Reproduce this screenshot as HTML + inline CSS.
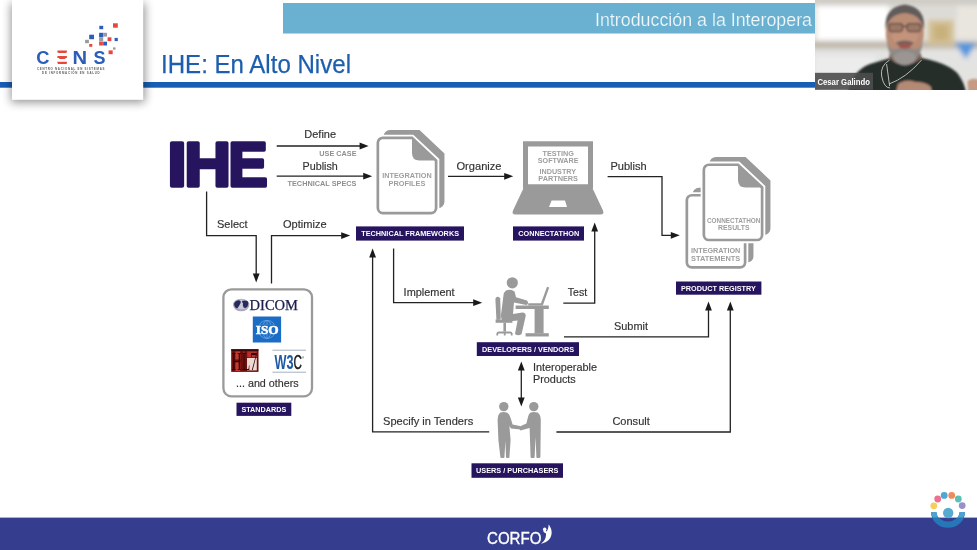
<!DOCTYPE html>
<html lang="es">
<head>
<meta charset="utf-8">
<title>IHE: En Alto Nivel</title>
<style>
html,body{margin:0;padding:0;background:#fff;}
body{width:977px;height:550px;overflow:hidden;position:relative;font-family:"Liberation Sans",sans-serif;}
svg{position:absolute;left:0;top:0;display:block;}
text{font-family:"Liberation Sans",sans-serif;}
.lbl{font-size:11.5px;fill:#333;stroke:#333;stroke-width:0.18px;}
.sm{font-size:7.6px;font-weight:bold;fill:#9e9e9e;}
.tag{font-size:7.4px;font-weight:bold;fill:#fff;}
.ln{fill:none;stroke:#222;stroke-width:1.3;}
.ah{fill:#1a1a1a;}
.g{fill:#9a9a9a;}
</style>
</head>
<body>
<svg width="977" height="550" viewBox="0 0 977 550" style="will-change:transform;transform:translateZ(0)">
<defs>
  <filter id="sh" x="-20%" y="-20%" width="140%" height="140%"><feGaussianBlur stdDeviation="4.6"/></filter>
  <filter id="b1" x="-20%" y="-20%" width="140%" height="140%"><feGaussianBlur stdDeviation="1.2"/></filter>
  <filter id="b2" x="-30%" y="-30%" width="160%" height="160%"><feGaussianBlur stdDeviation="2.5"/></filter>
  <filter id="b05" x="-10%" y="-10%" width="120%" height="120%"><feGaussianBlur stdDeviation="0.5"/></filter>
  <clipPath id="camclip"><rect x="815" y="0" width="162" height="89.5"/></clipPath>
  <clipPath id="barclip"><rect x="283" y="3" width="532" height="30.5"/></clipPath>

  <path id="docf" d="M6.35 1.35 H35.5 L59.6 24 V71.6 a5 5 0 0 1 -5 5 H6.35 a5 5 0 0 1 -5 -5 V6.35 a5 5 0 0 1 5 -5 Z"/>
  <g id="doc">
    <use href="#docf" transform="translate(7,-6.4)" fill="#9a9a9a" stroke="#9a9a9a" stroke-width="2.7"/>
    <use href="#docf" fill="#fff" stroke="#fff" stroke-width="6.4"/>
    <use href="#docf" fill="#fff" stroke="#9a9a9a" stroke-width="2.7"/>
    <path d="M35.5 1.35 L59.6 24 H43 Q35.5 24 35.5 16.5 Z" fill="#9a9a9a"/>
  </g>
</defs>

<!-- ===== HEADER ===== -->
<rect x="283" y="3" width="532" height="30.5" fill="#69b0d1"/>
<g clip-path="url(#barclip)">
<text x="595" y="26.2" font-size="18.8" fill="#f2f9fc" textLength="217" lengthAdjust="spacingAndGlyphs" style="font-weight:normal" stroke="#69b0d1" stroke-width="0.2">Introducción a la Interopera</text>
</g>
<rect x="0" y="82" width="977" height="5.7" fill="#185eb5"/>
<text x="161" y="72.5" font-size="26.2" fill="#1d5fae" stroke="#1d5fae" stroke-width="0.25" textLength="190" lengthAdjust="spacingAndGlyphs">IHE: En Alto Nivel</text>

<!-- logo card -->
<rect x="11" y="3" width="134" height="99.5" fill="#000" opacity="0.42" filter="url(#sh)"/>
<rect x="12" y="0" width="131.2" height="99.8" fill="#fff"/>



<!-- CENS logo -->
<g font-weight="bold" font-size="18.3">
  <text x="36.2" y="63.7" fill="#2b5db9" textLength="13.2" lengthAdjust="spacingAndGlyphs">C</text>
  <text x="57.4" y="63.7" fill="#e8473d" textLength="9.5" lengthAdjust="spacingAndGlyphs">Ξ</text>
  <text x="72.6" y="63.7" fill="#2b5db9" textLength="14.6" lengthAdjust="spacingAndGlyphs">N</text>
  <text x="93.6" y="63.7" fill="#2b5db9" textLength="12" lengthAdjust="spacingAndGlyphs">S</text>
</g>
<path d="M57.4 50.6 h9.5 v1.9 h-9.5 Z M57.4 56.1 h9.5 v1.9 h-9.5 Z M57.4 61.7 h9.5 v1.9 h-9.5 Z" fill="#e8473d"/>
<g font-weight="bold" font-size="2.9" fill="#5a5a5a">
  <text x="37" y="70.4" textLength="67.4" lengthAdjust="spacing">CENTRO NACIONAL EN SISTEMAS</text>
  <text x="42.1" y="74" textLength="57.6" lengthAdjust="spacing">DE INFORMACIÓN EN SALUD</text>
</g>
<g>
  <rect x="99.3" y="25.8" width="3.9" height="3.4" fill="#2b5db9"/>
  <rect x="113" y="23.3" width="4.8" height="4.4" fill="#e8473d"/>
  <rect x="89.2" y="34.7" width="4.8" height="4.5" fill="#2b5db9"/>
  <rect x="99.1" y="32.8" width="4.1" height="4.5" fill="#2b5db9"/>
  <rect x="103.2" y="32.8" width="3.8" height="3.8" fill="#9a9aa4"/>
  <rect x="99.1" y="37.3" width="4.1" height="3.8" fill="#9a9aa4"/>
  <rect x="107.6" y="37.3" width="3.8" height="3.8" fill="#e8473d"/>
  <rect x="114.6" y="37.9" width="3.2" height="3.2" fill="#2b5db9"/>
  <rect x="85.1" y="39.8" width="3.8" height="3.4" fill="#9a9a9a"/>
  <rect x="99.1" y="41.5" width="3.8" height="4" fill="#e8473d"/>
  <rect x="103.2" y="41.7" width="3.8" height="3.8" fill="#2b5db9"/>
  <rect x="89.2" y="44" width="3.1" height="2.8" fill="#e8473d"/>
  <rect x="113" y="47.4" width="2.5" height="2.2" fill="#9a9a9a"/>
  <rect x="108.6" y="50.4" width="4.1" height="3.8" fill="#e8473d"/>
</g>

<!-- ===== DIAGRAM: lines & arrows ===== -->
<g class="ln">
  <path d="M276.7 146 H362"/>
  <path d="M276.7 176.2 H365"/>
  <path d="M448 176.3 H506"/>
  <path d="M607.6 176.6 H662 V235.3 H673"/>
  <path d="M206.6 191.5 V235.6 H256.2 V275"/>
  <path d="M271.5 283.5 V235.6 H343"/>
  <path d="M393.6 248.6 V302.7 H475"/>
  <path d="M563.3 303.2 H594.7 V230"/>
  <path d="M564 336.8 H708.5 V308"/>
  <path d="M556.4 432 H730.3 V308"/>
  <path d="M489.2 431.8 H372.6 V256"/>
  <path d="M521.3 368 V400"/>
</g>
<g class="ah">
  <path d="M368.6 146 L359.6 142.6 V149.4 Z"/>
  <path d="M372.2 176.2 L363.2 172.8 V179.6 Z"/>
  <path d="M513.2 176.3 L504.2 172.9 V179.7 Z"/>
  <path d="M679.8 235.3 L670.8 231.9 V238.7 Z"/>
  <path d="M256.2 282.4 L252.8 273.4 H259.6 Z"/>
  <path d="M350.2 235.6 L341.2 232.2 V239 Z"/>
  <path d="M482.2 302.7 L473.2 299.3 V306.1 Z"/>
  <path d="M594.7 222.6 L591.3 231.6 H598.1 Z"/>
  <path d="M708.5 301.4 L705.1 310.4 H711.9 Z"/>
  <path d="M730.3 301.4 L726.9 310.4 H733.7 Z"/>
  <path d="M372.6 248.4 L369.2 257.4 H376 Z"/>
  <path d="M521.3 361.4 L517.9 370.4 H524.7 Z"/>
  <path d="M521.3 406.6 L517.9 397.6 H524.7 Z"/>
</g>


<!-- Integration profiles doc -->
<use href="#doc" x="376.5" y="136.5"/>
<g class="sm">
  <text x="382.2" y="177.5" textLength="49.6" lengthAdjust="spacingAndGlyphs">INTEGRATION</text>
  <text x="388.6" y="185.7" textLength="36.8" lengthAdjust="spacingAndGlyphs">PROFILES</text>
</g>

<!-- Product registry docs -->
<use href="#doc" transform="translate(685.5,194) scale(1,0.958)"/>
<g class="sm">
  <text x="691" y="252.9" textLength="49.3" lengthAdjust="spacingAndGlyphs">INTEGRATION</text>
  <text x="691" y="260.6" textLength="49.3" lengthAdjust="spacingAndGlyphs">STATEMENTS</text>
</g>
<use href="#doc" x="702.5" y="163.4"/>
<g class="sm">
  <text x="707" y="222.6" textLength="53.4" lengthAdjust="spacingAndGlyphs">CONNECTATHON</text>
  <text x="718" y="229.7" textLength="31.6" lengthAdjust="spacingAndGlyphs">RESULTS</text>
</g>

<!-- Laptop -->
<g class="g">
  <path d="M523 141.3 H593 V188.5 H523 Z M528 146.5 V184.3 H588 V146.5 Z" fill-rule="evenodd"/>
  <path d="M523.6 188 H592.4 L603 210.4 Q604.6 214.5 600.4 214.5 H515.6 Q511.4 214.5 513 210.4 Z M551.6 200.4 L549 207 H567 L565 200.4 Z" fill-rule="evenodd"/>
</g>

<!-- Developer at desk -->
<g class="g">
  <circle cx="512.3" cy="282.8" r="5.6"/>
  <path d="M506 290.6 Q510.5 288.6 514.6 291.4 L516 297.2 L527 300.6 Q529.4 303.6 526.4 305 L514 302.4 L513 314 L522.4 312.6 Q526.2 312.8 525.6 316.4 L521.6 334 Q518.4 336.6 515 334 L517.6 320.4 L505 322 Q500.6 320.4 501 315 L503.4 296 Q503.8 292 506 290.6 Z"/>
  <path d="M496.6 297 Q499.4 296.2 500.2 298.6 L500.8 318.6 Q499.4 320.6 496.4 319.6 L495.4 299.4 Q495.4 297.6 496.6 297 Z"/>
  <path d="M495.6 319.4 H512.4 V322.8 H495.6 Z"/>
  <path d="M503.4 322.8 H506 V331.6 H503.4 Z"/>
  <path d="M496.4 335.6 V333.6 Q496.6 331.4 499 331.4 H510 Q512.4 331.4 512.6 333.6 V335.6 H510.8 V333.4 H505.6 V335.6 H503.8 V333.4 H498.2 V335.6 Z"/>
  <path d="M515.6 305.4 H548.8 V309 H515.6 Z"/>
  <path d="M534.6 309 H543.6 V333.4 H534.6 Z"/>
  <path d="M525.6 333.2 H548.8 V336.5 H525.6 Z"/>
  <path d="M528.2 303.2 H541 L547 286.8 L549.2 287.6 L542.8 305.4 H528.2 Z"/>
</g>

<!-- Users shaking hands -->
<g class="g">
  <circle cx="503.8" cy="406.6" r="4.7"/>
  <circle cx="533.8" cy="406.6" r="4.7"/>
  <path d="M500.4 412.6 Q503.8 411.4 507.4 412.8 Q509.6 414.4 510.6 418 L512.6 424.4 L520 426 L520.4 429.4 L511 428.6 L509.4 426 L510.6 440 L509.4 457.4 Q507.8 458.8 506 457.4 L505.4 441 L504.4 457.4 Q502.4 458.8 500.4 457.4 L498.4 440 L497.6 420 Q497.8 414.4 500.4 412.6 Z"/>
  <path d="M530.6 412.6 Q534 411.4 537.6 412.6 Q540.6 414.4 540.8 420 L540.4 457.2 Q538.4 458.8 536.4 457.4 L535.6 437 L534.6 457.4 Q532.6 458.8 530.6 457.4 L529.6 428 L520.4 430.4 L518.6 427 L526.4 423.6 L528 417 Q528.6 413.8 530.6 412.6 Z"/>
</g>

<!-- Standards box -->
<rect x="223.4" y="289.3" width="88.6" height="107" rx="8" ry="8" fill="#fff" stroke="#9a9a9a" stroke-width="2.3"/>
<!-- DICOM -->
<ellipse cx="241.2" cy="305" rx="8.2" ry="6.3" fill="#a9a9bd"/>
<ellipse cx="241.6" cy="304.4" rx="6.6" ry="4.8" fill="#c9c9d8"/>
<path d="M234.2 303.4 Q235.4 300.4 239 300.2 Q241.4 300.8 240.6 303 Q239.4 305.6 237.6 308 Q235.8 309 234.8 306.6 Q233.8 305 234.2 303.4 Z M242 301 Q245 299.8 248 301.6 Q249 304 247.4 306.8 Q245.6 308.6 243.6 307.4 Q242.4 305.4 243 303.6 Q242 302.4 242 301 Z" fill="#262a5e"/>
<text x="249.6" y="309.7" font-size="14.6" textLength="48.4" lengthAdjust="spacingAndGlyphs" fill="#1c1d4e" stroke="#1c1d4e" stroke-width="0.25" style="font-family:'Liberation Serif',serif">DICOM</text>
<!-- ISO -->
<rect x="252.8" y="316.5" width="28.3" height="26" fill="#1b6cc4"/>
<g fill="none" stroke="#6aa6e6" stroke-width="0.8">
  <circle cx="267" cy="329.4" r="9"/>
  <ellipse cx="267" cy="329.4" rx="4.4" ry="9"/>
  <path d="M267 320.4 V338.4 M259 325 H275 M259 334 H275"/>
</g>
<rect x="255" y="324.6" width="24.4" height="9.8" fill="#1b6cc4"/>
<text x="255.8" y="333.7" font-size="11.6" font-weight="bold" textLength="22.9" lengthAdjust="spacingAndGlyphs" fill="#fff" stroke="#fff" stroke-width="0.5" style="font-family:'Liberation Serif',serif">ISO</text>
<!-- HL7 -->
<rect x="231.2" y="349.3" width="27.3" height="22.6" fill="#6e0f0d"/>
<rect x="231.2" y="349.3" width="27.3" height="1.3" fill="#1a0606"/>
<rect x="235.4" y="351.4" width="4.8" height="8" fill="#c43a30"/>
<rect x="235.4" y="362" width="4.8" height="9" fill="#c43a30"/>
<rect x="247.2" y="351.4" width="9.6" height="6" fill="#b8302a"/>
<rect x="247" y="358" width="9.8" height="12.4" fill="#efd9d4"/>
<rect x="243.4" y="351.4" width="0.9" height="17" fill="#c43a30"/>
<text x="231.6" y="370.4" font-size="25" textLength="25.6" lengthAdjust="spacingAndGlyphs" fill="#2a0606" style="font-family:'Liberation Serif',serif">HL7</text>
<!-- W3C -->
<path d="M272.4 350.2 H306 M272.4 372.2 H306" stroke="#9aa6b8" stroke-width="0.9"/>
<text x="274.6" y="369" font-size="20.6" font-weight="bold" textLength="19" lengthAdjust="spacingAndGlyphs" fill="#1d5aa6">W3</text>
<text x="293.4" y="369" font-size="20.6" textLength="8.4" lengthAdjust="spacingAndGlyphs" fill="#1a1a1a" stroke="#1a1a1a" stroke-width="0.5">C</text>
<text x="301.6" y="358.6" font-size="3.4" fill="#222">®</text>

<!-- ===== DIAGRAM: labels ===== -->
<g class="lbl">
  <text x="304.3" y="138.4" textLength="31.8" lengthAdjust="spacingAndGlyphs">Define</text>
  <text x="302.6" y="170.2" textLength="35.2" lengthAdjust="spacingAndGlyphs">Publish</text>
  <text x="456.5" y="170.2" textLength="45" lengthAdjust="spacingAndGlyphs">Organize</text>
  <text x="610.4" y="170.2" textLength="36.2" lengthAdjust="spacingAndGlyphs">Publish</text>
  <text x="217" y="227.7" textLength="30.6" lengthAdjust="spacingAndGlyphs">Select</text>
  <text x="283" y="227.7" textLength="43.6" lengthAdjust="spacingAndGlyphs">Optimize</text>
  <text x="403.6" y="296" textLength="51" lengthAdjust="spacingAndGlyphs">Implement</text>
  <text x="567.8" y="295.7" textLength="19.4" lengthAdjust="spacingAndGlyphs">Test</text>
  <text x="614" y="329.9" textLength="34" lengthAdjust="spacingAndGlyphs">Submit</text>
  <text x="612.4" y="424.7" textLength="37.4" lengthAdjust="spacingAndGlyphs">Consult</text>
  <text x="383" y="424.5" textLength="90.2" lengthAdjust="spacingAndGlyphs">Specify in Tenders</text>
  <text x="533" y="370.5" textLength="64" lengthAdjust="spacingAndGlyphs">Interoperable</text>
  <text x="533" y="383.2" textLength="42.8" lengthAdjust="spacingAndGlyphs">Products</text>
  <text x="236" y="387.3" textLength="62.6" lengthAdjust="spacingAndGlyphs">... and others</text>
</g>
<g class="sm">
  <text x="319.3" y="155.8" textLength="37.2" lengthAdjust="spacingAndGlyphs" fill="#8f8f8f">USE CASE</text>
  <text x="287.5" y="186.1" textLength="69" lengthAdjust="spacingAndGlyphs" fill="#8f8f8f">TECHNICAL SPECS</text>
  <text x="542.5" y="156" textLength="31.4" lengthAdjust="spacingAndGlyphs">TESTING</text>
  <text x="537.8" y="163.3" textLength="40.7" lengthAdjust="spacingAndGlyphs">SOFTWARE</text>
  <text x="539.5" y="174" textLength="36.6" lengthAdjust="spacingAndGlyphs">INDUSTRY</text>
  <text x="538.3" y="181.1" textLength="39.7" lengthAdjust="spacingAndGlyphs">PARTNERS</text>
</g>

<!-- ===== DIAGRAM: tags ===== -->
<g fill="#26145f">
  <rect x="356" y="226.4" width="108" height="14.2"/>
  <rect x="513" y="226.4" width="71" height="14.2"/>
  <rect x="676" y="281.5" width="85.4" height="13.2"/>
  <rect x="476.8" y="342.2" width="102.2" height="13.8"/>
  <rect x="471.5" y="463.3" width="91.5" height="14.5"/>
  <rect x="236.5" y="402.7" width="54.8" height="13.2"/>
</g>
<g class="tag">
  <text x="361.3" y="236.3" textLength="97.7" lengthAdjust="spacingAndGlyphs">TECHNICAL FRAMEWORKS</text>
  <text x="518.2" y="236.3" textLength="61" lengthAdjust="spacingAndGlyphs">CONNECTATHON</text>
  <text x="681" y="290.8" textLength="74.8" lengthAdjust="spacingAndGlyphs">PRODUCT REGISTRY</text>
  <text x="482" y="351.6" textLength="92.2" lengthAdjust="spacingAndGlyphs">DEVELOPERS / VENDORS</text>
  <text x="476" y="473.1" textLength="82.5" lengthAdjust="spacingAndGlyphs">USERS / PURCHASERS</text>
  <text x="241.4" y="411.8" textLength="45" lengthAdjust="spacingAndGlyphs">STANDARDS</text>
</g>

<!-- ===== IHE logo ===== -->
<g font-size="62.4" font-weight="bold" fill="#27145f" stroke="#27145f" stroke-width="3.6" stroke-linejoin="round"><text y="185.6"><tspan x="167.2" textLength="19.6" lengthAdjust="spacingAndGlyphs">I</tspan><tspan x="184.2" textLength="46.8" lengthAdjust="spacingAndGlyphs">H</tspan><tspan x="228.2" textLength="39.4" lengthAdjust="spacingAndGlyphs">E</tspan></text></g>

<!--ICONS-->

<!-- ===== FOOTER ===== -->
<rect x="0" y="517.6" width="977" height="33" fill="#353d8e"/>
<text x="487" y="543.5" font-size="17.4" fill="#fff" stroke="#fff" stroke-width="0.35" textLength="54.4" lengthAdjust="spacingAndGlyphs">CORFO</text>

<!-- CORFO figure -->
<path d="M548.6 524.4 C554.2 531 552.4 541.4 541 543.7 C545 541 546.2 537.4 546 533.6 L543.2 531.8 L544.4 530.2 L546.6 531.4 C548 529.6 548.6 527 548.6 524.4 Z" fill="#fff"/>
<circle cx="544.7" cy="529.4" r="1.8" fill="#fff"/>

<!-- bottom-right badge -->
<g>
  <path d="M931 512.2 A17 15.6 0 0 0 965 512.2 H959.4 A11.4 9.4 0 0 1 936.6 512.2 Z" fill="#2577b8"/>
  <path d="M931 512.2 A17 15.6 0 0 0 932.9 517.6 H938.2 A11.4 9.4 0 0 1 936.6 512.2 Z M965 512.2 A17 15.6 0 0 1 963.1 517.6 H957.8 A11.4 9.4 0 0 0 959.4 512.2 Z" fill="#4fa3d0"/>
  <circle cx="948.2" cy="513" r="5.2" fill="#56aad0"/>
  <path d="M943.6 515.4 A5.2 5.2 0 0 0 952.8 515.4 L951 517.6 H945.4 Z" fill="#2f86c6" opacity="0"/>
  <circle cx="933.8" cy="505.8" r="3.4" fill="#f6cf5a"/>
  <circle cx="937.7" cy="499" r="3.4" fill="#ee6f8e"/>
  <circle cx="944.2" cy="495.4" r="3.4" fill="#4ea6d2"/>
  <circle cx="951.7" cy="495.4" r="3.4" fill="#f08a5a"/>
  <circle cx="958.3" cy="499" r="3.4" fill="#5cc0b8"/>
  <circle cx="962.2" cy="505.6" r="3.4" fill="#9a8fc8"/>
</g>

<!-- webcam -->
<g clip-path="url(#camclip)">
  <rect x="815" y="0" width="162" height="90" fill="#e4e2dd"/>
  <g filter="url(#b2)">
    <rect x="810" y="-6" width="175" height="11" fill="#cfccc6"/>
    <rect x="817" y="6" width="72" height="34" fill="#ffffff"/>
    <rect x="890" y="5" width="90" height="14" fill="#dddbd6"/>
    <rect x="810" y="41.5" width="175" height="7" fill="#bdb6a9"/>
    <rect x="810" y="49" width="175" height="45" fill="#e3e3e2"/>
    <rect x="815" y="56" width="60" height="30" fill="#ececec"/>
    <rect x="928" y="20" width="26" height="25" fill="#d2c096"/>
    <rect x="934" y="25" width="14" height="15" fill="#c9b07a"/>
    <rect x="957" y="6" width="24" height="32" fill="#e9e6df"/>
    <path d="M955 43 H976 L966 59 Z" fill="#4f95dc"/>
  </g>
  <g filter="url(#b1)">
    <path d="M848 92 Q853 70 870 64 L890 58 L922 58 Q950 64 958 74 Q964 82 966 92 Z" fill="#272d29"/>
    <path d="M889 58 Q904 72 922 58 L920 52 H890 Z" fill="#7a6256"/>
    <ellipse cx="904.8" cy="33" rx="19" ry="27" fill="#b98c76"/>
    <ellipse cx="904.8" cy="36" rx="13" ry="10" fill="#c4937c"/>
    <path d="M885.6 30 Q883.6 7 904.8 4.6 Q926 7 924 30 Q921 14 904.8 13 Q888.6 14 885.6 30 Z" fill="#5f5b5a"/>
    <path d="M887 42 Q889 62 904.8 65.6 Q920.6 62 922.6 42 Q919 51 913 49 Q905 45 896.6 49 Q890.6 51 887 42 Z" fill="#8f8a87"/>
    <ellipse cx="904.8" cy="58" rx="11" ry="6.6" fill="#9b9693"/>
    <path d="M896 42.6 Q904.8 38.6 913.6 42.6 L912 45 H897.6 Z" fill="#6e625c"/>
    <ellipse cx="904.8" cy="46.2" rx="6" ry="2.6" fill="#a4524e"/>
    <path d="M888 26.6 H921.6" stroke="#54463f" stroke-width="1.5" fill="none"/>
    <rect x="889" y="23.6" width="13.6" height="8" rx="2.5" fill="#9c7765" stroke="#54463f" stroke-width="1.1"/>
    <rect x="907" y="23.6" width="13.6" height="8" rx="2.5" fill="#9c7765" stroke="#54463f" stroke-width="1.1"/>
    <path d="M898 84 Q906 78 916 82 Q926 82 931 87 L932 92 H896 Z" fill="#b48a74"/>
    <path d="M967.6 81 Q973 77 979 80 V92 H968 Z" fill="#c69a82"/>
  </g>
  <path d="M889.6 60 Q880 66 881.6 76 Q884 88 890 88 M886.6 64 L889.6 86 M921.6 60 Q906 78 889 84" fill="none" stroke="#dcdad6" stroke-width="0.8" filter="url(#b05)"/>
  <rect x="815" y="72.8" width="58" height="17" fill="#4c4c4c" opacity="0.9"/>
  <text x="817.4" y="84.7" font-size="8.6" font-weight="bold" fill="#fff" textLength="52.6" lengthAdjust="spacingAndGlyphs">Cesar Galindo</text>
</g>

</svg>
</body>
</html>
